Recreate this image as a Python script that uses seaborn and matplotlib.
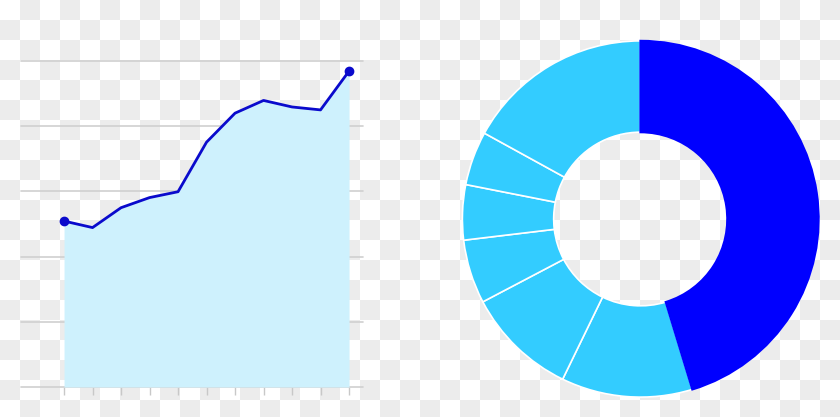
import numpy as np
import pandas as pd
import matplotlib
matplotlib.use('Agg')
import matplotlib.pyplot as plt
import seaborn as sns

# line / area data (11 points, y axis 0..100)
steps = list(range(11))
values = [50.9, 48.9, 55.0, 58.1, 59.9, 75.1, 84.0, 87.9, 85.9, 85.0, 96.9]
grid_ticks = [0, 20, 40, 60, 80, 100]

# donut shares, clockwise from 12 o'clock
shares = [45.3, 11.9, 10.1, 5.8, 5.0, 4.9, 17.0]
share_colors = ['#0000ff'] + ['#33ccff'] * 6

sns.set_style('white')
fig = plt.figure(figsize=(8.4, 4.17), dpi=100)

# transparent-png checkerboard behind everything
bg = fig.add_axes([0, 0, 1, 1], zorder=-10)
rows, cols = 21, 42
board = (np.add.outer(np.arange(rows), np.arange(cols)) % 2)
bg.imshow(board, cmap=matplotlib.colors.ListedColormap(['#ffffff', '#ececec']),
          extent=(0, cols * 20, rows * 20, 0), interpolation='nearest')
bg.set_xlim(0, 840)
bg.set_ylim(417, 0)
bg.axis('off')

# ---- area chart ----
ax = fig.add_axes([21 / 840, 30 / 417, 342 / 840, 326 / 417])
ax.patch.set_alpha(0)
df = pd.DataFrame({'step': steps, 'value': values})
ax.fill_between(df['step'], df['value'], 0, color='#cef1fd', lw=0, zorder=1)
sns.lineplot(data=df, x='step', y='value', ax=ax, color='#0a0acc', lw=2, zorder=3)
ax.plot(df['step'].iloc[[0, -1]], df['value'].iloc[[0, -1]], 'o', color='#0a0acc',
        ms=6, zorder=4, clip_on=False)
ax.set_xlim(-1.51, 10.49)
ax.set_ylim(0, 100)
ax.set_yticks(grid_ticks)
ax.set_xticks(steps)
ax.yaxis.grid(True, color='#d0d0d0', lw=1.2, zorder=0)
for gl in ax.get_ygridlines():
    gl.set_clip_on(False)
ax.set_axisbelow(True)
for s in ax.spines.values():
    s.set_visible(False)
ax.tick_params(axis='y', length=0, left=False, labelleft=False)
ax.tick_params(axis='x', bottom=True, direction='out', length=6, width=1,
               color='#c8c8c8', labelbottom=False)
ax.set_xlabel('')
ax.set_ylabel('')

# ---- donut ----
ax2 = fig.add_axes([461.5 / 840, 19 / 417, 358 / 840, 358 / 417])
wedges, _ = ax2.pie(shares, colors=share_colors, startangle=90, counterclock=False,
                    radius=0.995, wedgeprops=dict(width=0.51, edgecolor='white', linewidth=1.2))
wedges[0].set_edgecolor('#0000ff')
wedges[0].set_linewidth(1.6)
wedges[0].set_zorder(5)
ax2.set_xlim(-1, 1)
ax2.set_ylim(-1, 1)
ax2.set_aspect('equal')
ax2.axis('off')

fig.savefig('out.png', dpi=100)
